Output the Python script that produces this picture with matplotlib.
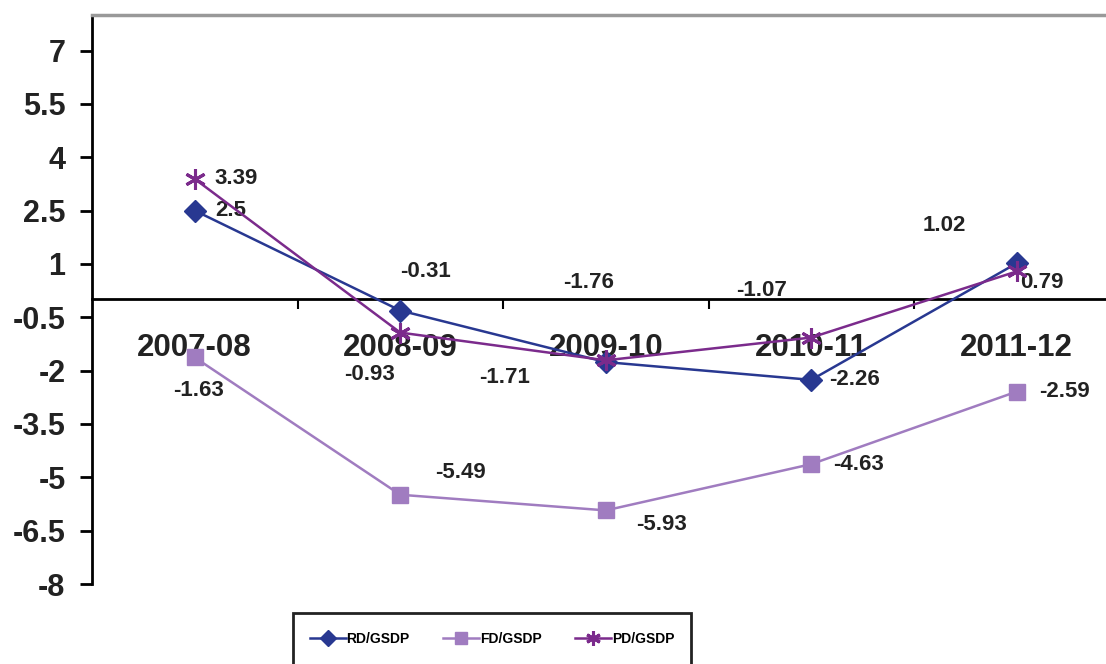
import numpy as np
import matplotlib.pyplot as plt
from matplotlib.patches import Rectangle

plt.rcParams['font.family'] = ['Liberation Sans', 'DejaVu Sans']
plt.rcParams['font.weight'] = 'bold'

years = ['2007-08', '2008-09', '2009-10', '2010-11', '2011-12']
rd = [2.5, -0.31, -1.76, -2.26, 1.02]
fd = [-1.63, -5.49, -5.93, -4.63, -2.59]
pd_ = [3.39, -0.93, -1.71, -1.07, 0.79]
yticks = [-8, -6.5, -5, -3.5, -2, -0.5, 1, 2.5, 4, 5.5, 7]

# label offsets in pixels (dx, dy, ha), same order as the values
rd_off = [(20, 0, 'left'), (25, 39, 'center'), (-17, 80, 'center'), (18, 0, 'left'), (-72, 38, 'center')]
fd_off = [(4, -33, 'center'), (60, 22, 'center'), (56, -14, 'center'), (22, 0, 'left'), (22, 0, 'left')]
pd_off = [(20, 0, 'left'), (-31, -42, 'center'), (-101, -17, 'center'), (-50, 47, 'center'), (25, -11, 'center')]

c_rd = '#283891'
c_fd = '#a07cc0'
c_pd = '#7b2b8c'

fig = plt.figure(figsize=(11.06, 6.64), dpi=100)
ax = fig.add_axes([92/1106, 1-584/664, 1027.5/1106, 569/664])
x = np.arange(len(years))

l1, = ax.plot(x, rd, color=c_rd, lw=1.8, marker='D', ms=11, zorder=3)
l2, = ax.plot(x, fd, color=c_fd, lw=1.8, marker='s', ms=12, zorder=3)
l3, = ax.plot(x, pd_, color=c_pd, lw=1.8, marker=(6, 2, 0), ms=15, mew=2.2, zorder=4)

for vals, offs in [(rd, rd_off), (fd, fd_off), (pd_, pd_off)]:
    for xi, v, (dx, dy, ha) in zip(x, vals, offs):
        ax.annotate(f'{v:g}', (xi, v), xytext=(dx, dy), textcoords='offset pixels',
                    ha=ha, va='center', fontsize=16, fontweight='bold', color='#222222')

for xi, yr in zip(x, years):
    ax.text(xi, -1.36, yr, ha='center', va='center', fontsize=22.5,
            fontweight='bold', color='#222222', zorder=1)

ax.set_xlim(-0.5, 4.5)
ax.set_ylim(-8, 8)
ax.set_yticks(yticks)
ax.set_yticklabels([f'{t:g}' for t in yticks], fontsize=22, fontweight='bold', color='#222222')
ax.tick_params(axis='y', length=9, width=2, pad=10)

ax.set_xticks([0.5, 1.5, 2.5, 3.5])
ax.set_xticklabels([])
ax.tick_params(axis='x', direction='out', length=7, width=1.5)
ax.spines['bottom'].set_position(('data', 0))
ax.spines['bottom'].set_linewidth(2)
ax.spines['left'].set_linewidth(2)
ax.spines['top'].set_color('#999999')
ax.spines['top'].set_linewidth(2.5)
ax.spines['right'].set_visible(False)

fig.patches.append(Rectangle((293/1106, -0.05), 398/1106, 0.05 + 51/664, transform=fig.transFigure,
                             fill=False, edgecolor='#222222', lw=2))
leg = fig.legend([l1, l2, l3], ['RD/GSDP', 'FD/GSDP', 'PD/GSDP'], loc='center',
                 bbox_to_anchor=(492/1106, 1-639/664), ncol=3, frameon=False,
                 prop={'size': 10, 'weight': 'bold'},
                 markerscale=0.7, handlelength=2.6, columnspacing=2.4, handletextpad=0.05)

fig.savefig('out.png', dpi=100)
